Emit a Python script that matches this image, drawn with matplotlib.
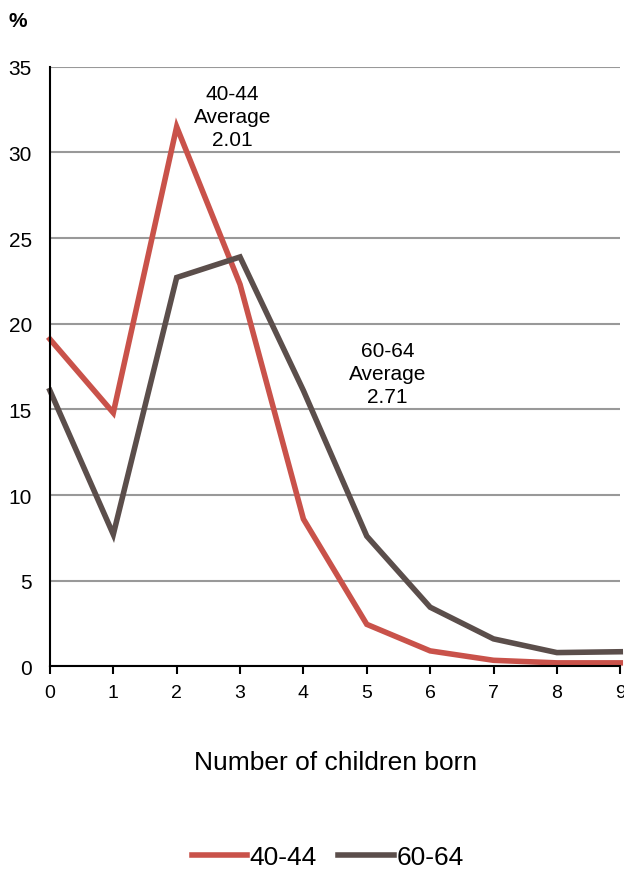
import matplotlib
matplotlib.use("Agg")
from matplotlib import pyplot as plt

plt.rcParams['font.family'] = ['Liberation Sans', 'DejaVu Sans']

children = [0, 1, 2, 3, 4, 5, 6, 7, 8, 9]
age_40_44 = [19.1, 14.8, 31.5, 22.3, 8.6, 2.45, 0.9, 0.35, 0.2, 0.2]
age_60_64 = [16.1, 7.7, 22.7, 23.9, 16.1, 7.6, 3.45, 1.6, 0.8, 0.85]
series_names = ["40-44", "60-64"]

red = "#C9524A"
brown = "#5B4E4B"

fig = plt.figure(figsize=(6.24, 8.7), dpi=100)
ax = fig.add_axes([0.080, 0.233, 0.914, 0.689])

ax.plot(children, age_40_44, color=red, lw=4, label=series_names[0], solid_joinstyle='miter')
ax.plot(children, age_60_64, color=brown, lw=4, label=series_names[1], solid_joinstyle='miter')

ax.set_xlim(0, 9)
ax.set_ylim(0, 35)
ax.set_xticks(children)
ax.set_yticks(range(0, 36, 5))
ax.yaxis.grid(True, color="#999999", lw=1.5)
ax.set_axisbelow(True)
for s in ["top", "right"]:
    ax.spines[s].set_visible(False)
ax.spines["left"].set_linewidth(1.5)
ax.spines["bottom"].set_linewidth(1.5)
ax.tick_params(axis='y', length=0, pad=13, labelsize=15)
ax.tick_params(axis='x', length=6, width=1.5, direction='out', labelsize=14, pad=7)
for line in ax.lines:
    line.set_clip_on(False)

ax.text(2.88, 32.1, "40-44\nAverage\n2.01", ha='center', va='center', fontsize=15, linespacing=1.25)
ax.text(5.33, 17.1, "60-64\nAverage\n2.71", ha='center', va='center', fontsize=15, linespacing=1.25)

fig.text(0.013, 0.975, "%", fontsize=15, fontweight='bold', va='center')
ax.set_xlabel("Number of children born", fontsize=19, labelpad=35)

fig.legend(loc='center', bbox_to_anchor=(0.525, 0.014), ncol=2, frameon=False,
           fontsize=19, handlelength=2.1, handletextpad=0.1, columnspacing=0.8)

fig.savefig("out.png", dpi=100)
